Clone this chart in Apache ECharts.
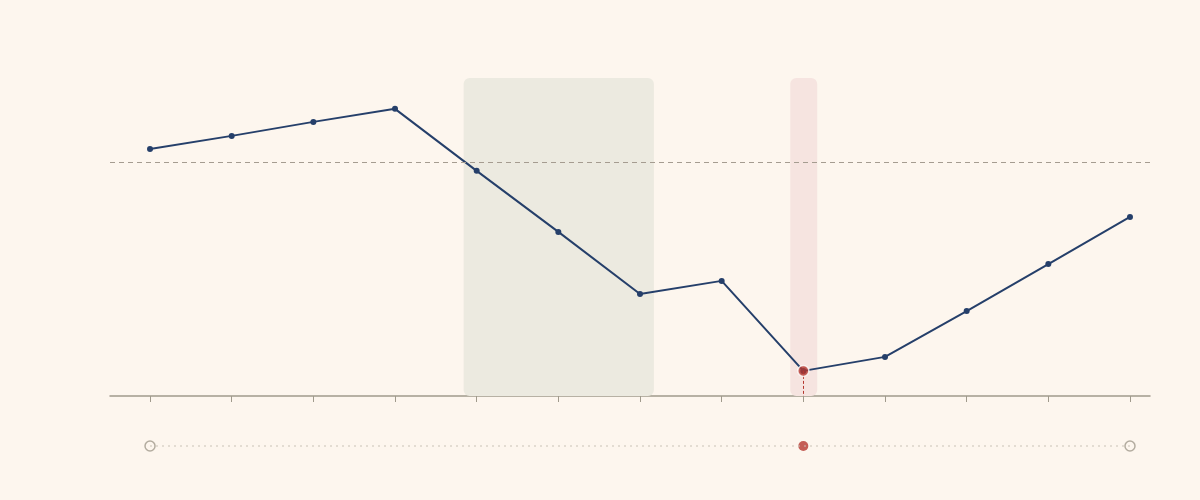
<!DOCTYPE html>
<html><head><meta charset="utf-8">
<script src="https://cdn.jsdelivr.net/npm/echarts@6/dist/echarts.min.js"></script>
<style>html,body{margin:0;background:#fdf6ee}#c{width:1200px;height:500px}</style>
</head><body><div id="c"></div>
<script>
const indices = [0,1,2,3,4,5,6,7,8,9,10,11,12];
const values = [77.7,81.8,86.2,90.3,70.8,51.6,32.1,36.2,7.9,12.3,26.7,41.5,56.3];
const refLevel = 73.6;
const bands = [[3.84,6.17,'#eceae0'],[7.84,8.17,'#f6e4e0']];
const lowIndex = 8;
const chart = echarts.init(document.getElementById('c'));
chart.setOption({
  backgroundColor:'#fdf6ee',
  animation:false,
  grid:[{left:110,right:50,top:78,bottom:104},{left:110,right:50,top:436,height:20}],
  xAxis:[
    {type:'value',gridIndex:0,min:-0.49,max:12.245,splitLine:{show:false},
     axisLine:{lineStyle:{color:'#a09a8c',width:1.5}},
     axisTick:{show:true,customValues:indices,length:6,inside:false,lineStyle:{color:'#a09a8c'}},
     axisLabel:{show:false}},
    {type:'value',gridIndex:1,min:-0.49,max:12.245,show:false}
  ],
  yAxis:[
    {type:'value',gridIndex:0,min:0,max:100,show:false},
    {type:'value',gridIndex:1,min:0,max:1,show:false}
  ],
  series:[
    {type:'custom',xAxisIndex:0,yAxisIndex:0,z:1,
     data:bands.map(b=>[b[0],b[1]]),
     renderItem:(p,api)=>{
       const b=bands[p.dataIndex];
       const a=api.coord([b[0],100]), c=api.coord([b[1],0]);
       return {type:'rect',shape:{x:a[0],y:a[1],width:c[0]-a[0],height:c[1]-a[1],r:6},style:{fill:b[2]}};
     }},
    {type:'line',xAxisIndex:0,yAxisIndex:0,z:3,
     data:indices.map((i,k)=>[i,values[k]]),
     symbol:'circle',symbolSize:6,
     lineStyle:{color:'#253f6a',width:2},itemStyle:{color:'#253f6a'},
     markLine:{silent:true,symbol:'none',label:{show:false},
       data:[{yAxis:refLevel,lineStyle:{color:'#a59c90',type:[5,4],width:1}},
             [{coord:[lowIndex,values[lowIndex]],lineStyle:{color:'#b5372f',type:[3,2],width:1}},{coord:[lowIndex,0]}]]}},
    {type:'scatter',xAxisIndex:0,yAxisIndex:0,z:5,data:[[lowIndex,values[lowIndex]]],
     symbolSize:11,itemStyle:{color:'#b5372f',borderColor:'#fff',borderWidth:1.5}},
    {type:'line',xAxisIndex:1,yAxisIndex:1,data:[[0,0.5],[12,0.5]],symbol:'none',
     lineStyle:{color:'#c9c2b6',type:[2,4],width:1}},
    {type:'scatter',xAxisIndex:1,yAxisIndex:1,data:[[0,0.5],[12,0.5]],symbolSize:10,
     itemStyle:{color:'#fdf6ee',borderColor:'#a09a8c',borderWidth:1.5}},
    {type:'scatter',xAxisIndex:1,yAxisIndex:1,data:[[lowIndex,0.5]],symbolSize:10,
     itemStyle:{color:'#b5372f'}}
  ]
});
</script></body></html>
